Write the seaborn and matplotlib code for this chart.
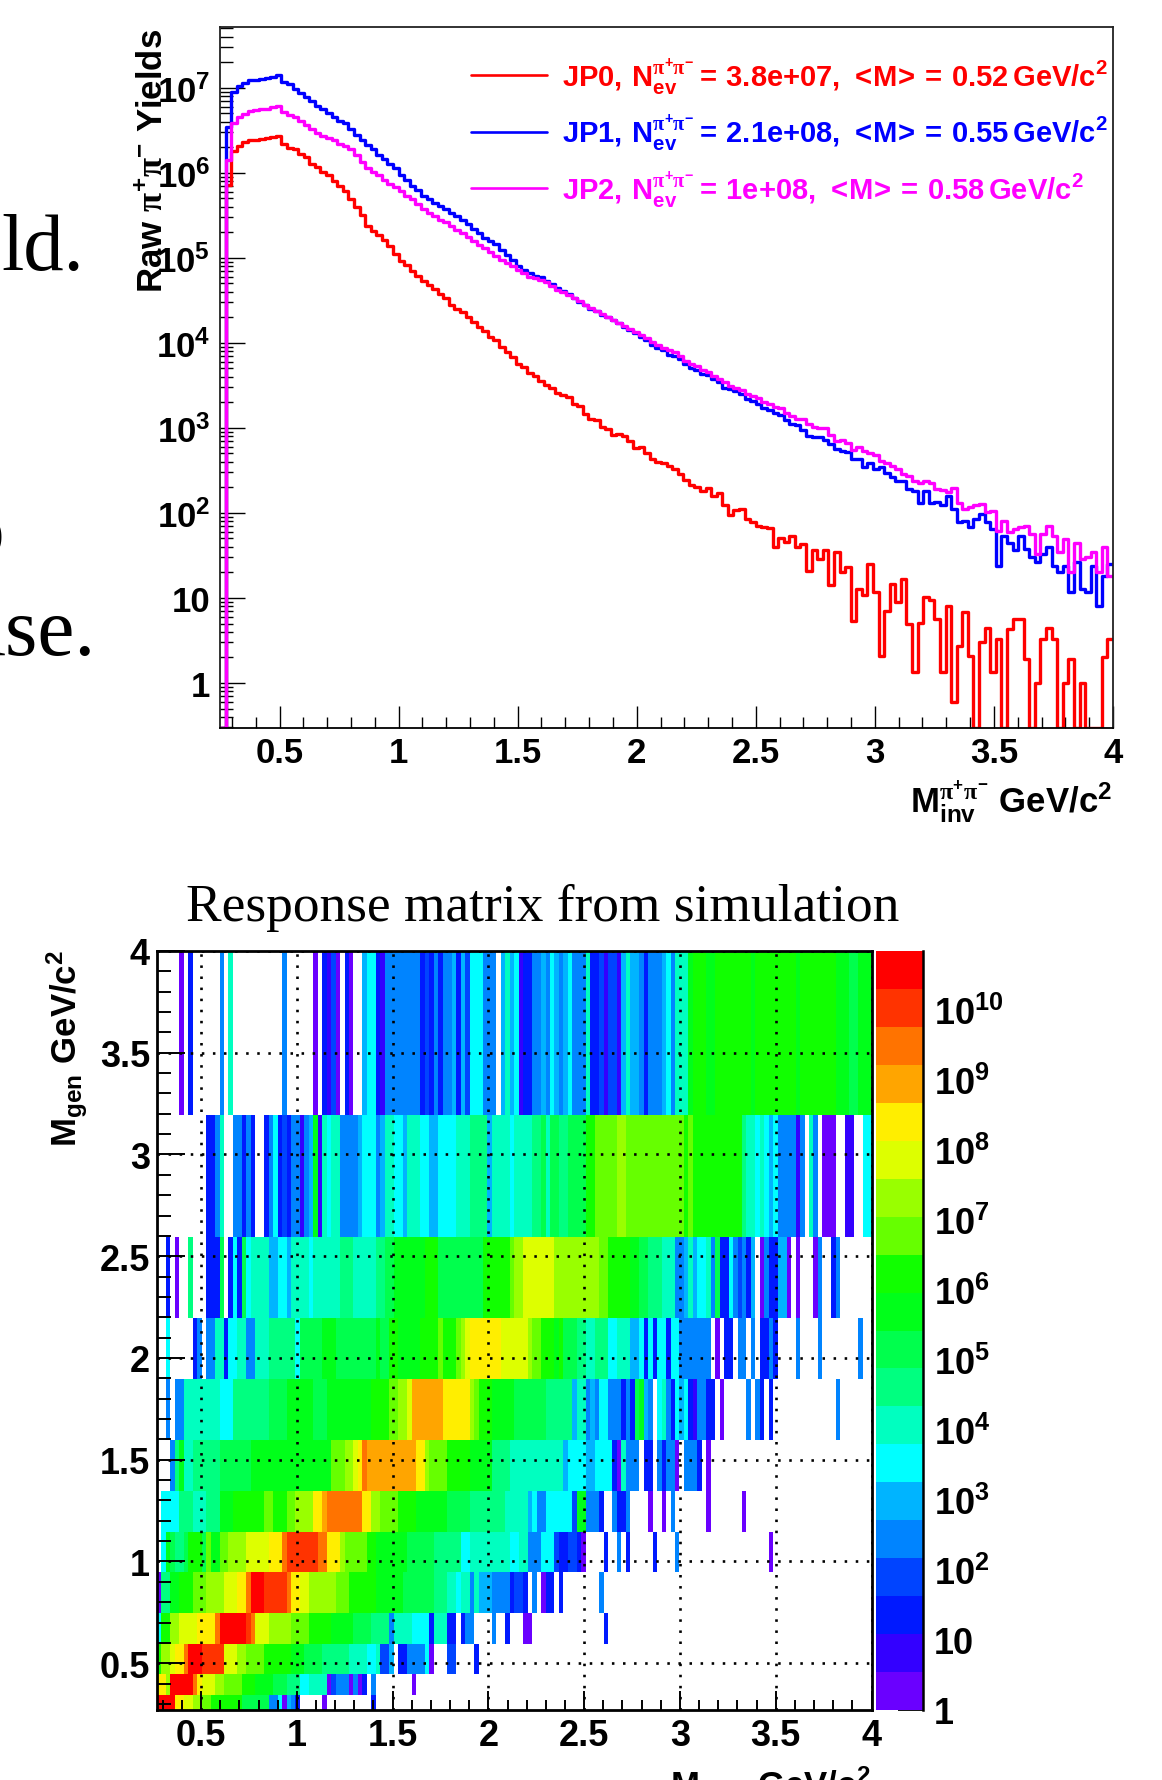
#!/usr/bin/env python3
"""Raw pi+pi- yields per trigger and the simulated response matrix."""

import numpy as np
import pandas as pd
import seaborn as sns
import matplotlib
matplotlib.use('Agg')
import matplotlib.pyplot as plt
from matplotlib.colors import BoundaryNorm, ListedColormap
from matplotlib.ticker import LogLocator, MultipleLocator, NullFormatter

WIDTH, HEIGHT = 1162, 1781

# log10 of the yields, one value per mass bin (None = empty bin)
RED_LOG = [
    None, 5.86, 6.26, 6.32, 6.36, 6.38, 6.39, 6.40, 6.41, 6.42,
    6.43, 6.34, 6.29, 6.28, 6.225, 6.18, 6.105, 6.07, 6.015, 5.97,
    5.90, 5.85, 5.79, 5.69, 5.60, 5.50, 5.37, 5.32, 5.27, 5.21,
    5.14, 5.05, 4.96, 4.91, 4.85, 4.79, 4.73, 4.68, 4.63, 4.58,
    4.53, 4.45, 4.40, 4.36, 4.30, 4.24, 4.19, 4.145, 4.07, 4.03,
    3.95, 3.89, 3.83, 3.75, 3.71, 3.645, 3.615, 3.555, 3.50, 3.47,
    3.41, 3.39, 3.36, 3.28, 3.26, 3.165, 3.11, 3.09, 3.01, 2.99,
    2.92, 2.93, 2.91, 2.84, 2.76, 2.77, 2.71, 2.635, 2.60, 2.59,
    2.55, 2.52, 2.46, 2.39, 2.33, 2.31, 2.255, 2.29, 2.20, 2.235,
    2.09, 1.97, 2.03, 2.05, 1.93, 1.89, 1.85, 1.83, 1.82, 1.60,
    1.71, 1.655, 1.73, 1.60, 1.635, 1.32, 1.56, 1.46, 1.56, 1.15,
    1.54, 1.30, 1.36, 0.73, 1.11, 1.03, 1.40, 1.07, 0.32, 0.85,
    1.16, 0.95, 1.22, 0.69, 0.13, 0.71, 1.01, 0.97, 0.75, 0.13,
    0.91, -0.23, 0.44, 0.83, 0.32, None, 0.48, 0.65, 0.13, 0.52,
    None, 0.64, 0.75, 0.75, 0.28, None, 0.0, 0.52, 0.65, 0.52,
    None, 0.0, 0.28, None, 0.0, None, None, None, 0.30, 0.52,
]
BLUE_LOG = [
    None, 6.54, 6.95, 7.02, 7.06, 7.09, 7.09, 7.10, 7.11, 7.13,
    7.145, 7.07, 7.05, 6.99, 6.94, 6.89, 6.84, 6.78, 6.745, 6.70,
    6.655, 6.61, 6.58, 6.51, 6.44, 6.38, 6.33, 6.275, 6.21, 6.16,
    6.105, 6.055, 5.975, 5.92, 5.85, 5.80, 5.73, 5.69, 5.65, 5.61,
    5.57, 5.53, 5.49, 5.45, 5.40, 5.34, 5.29, 5.23, 5.20, 5.16,
    5.09, 5.03, 4.97, 4.90, 4.86, 4.82, 4.79, 4.77, 4.73, 4.69,
    4.65, 4.61, 4.57, 4.53, 4.48, 4.44, 4.40, 4.37, 4.33, 4.30,
    4.27, 4.23, 4.19, 4.15, 4.11, 4.07, 4.03, 3.98, 3.935, 3.91,
    3.86, 3.85, 3.81, 3.75, 3.70, 3.675, 3.635, 3.62, 3.58, 3.535,
    3.47, 3.46, 3.43, 3.40, 3.34, 3.32, 3.28, 3.23, 3.215, 3.17,
    3.15, 3.09, 3.05, 3.03, 2.97, 2.91, 2.89, 2.89, 2.86, 2.81,
    2.75, 2.73, 2.72, 2.635, 2.63, 2.545, 2.585, 2.515, 2.535, 2.47,
    2.42, 2.37, 2.38, 2.28, 2.26, 2.12, 2.26, 2.12, 2.13, 2.09,
    2.20, 2.05, 1.89, 1.91, 1.83, 1.93, 1.99, 1.89, 1.81, 1.38,
    1.73, 1.65, 1.56, 1.73, 1.58, 1.48, 1.42, 1.52, 1.60, 1.38,
    1.30, 1.38, 1.07, 1.42, 1.11, 1.07, 1.38, 0.91, 1.26, 1.40,
]
MAGENTA_LOG = [
    None, 6.145, 6.58, 6.655, 6.695, 6.725, 6.74, 6.745, 6.75, 6.77,
    6.785, 6.72, 6.68, 6.655, 6.605, 6.56, 6.52, 6.47, 6.43, 6.41,
    6.38, 6.34, 6.31, 6.275, 6.21, 6.125, 6.055, 6.01, 5.97, 5.91,
    5.87, 5.83, 5.79, 5.73, 5.695, 5.63, 5.58, 5.53, 5.49, 5.45,
    5.42, 5.38, 5.33, 5.29, 5.25, 5.20, 5.15, 5.11, 5.07, 5.02,
    4.98, 4.94, 4.90, 4.86, 4.82, 4.78, 4.76, 4.74, 4.71, 4.67,
    4.62, 4.60, 4.565, 4.525, 4.49, 4.45, 4.41, 4.38, 4.34, 4.30,
    4.27, 4.23, 4.20, 4.16, 4.125, 4.09, 4.055, 4.015, 3.975, 3.935,
    3.91, 3.89, 3.85, 3.79, 3.75, 3.725, 3.675, 3.655, 3.615, 3.575,
    3.535, 3.49, 3.47, 3.445, 3.40, 3.38, 3.35, 3.31, 3.275, 3.24,
    3.23, 3.17, 3.14, 3.11, 3.11, 3.05, 3.015, 3.0, 3.0, 2.92,
    2.85, 2.86, 2.82, 2.745, 2.78, 2.73, 2.71, 2.675, 2.615, 2.59,
    2.55, 2.52, 2.46, 2.43, 2.38, 2.35, 2.37, 2.35, 2.28, 2.27,
    2.25, 2.29, 2.12, 2.04, 2.07, 2.09, 2.11, 2.01, 2.02, 1.79,
    1.91, 1.77, 1.81, 1.83, 1.84, 1.75, 1.52, 1.75, 1.84, 1.73,
    1.54, 1.69, 1.30, 1.64, 1.46, 1.48, 1.54, 1.30, 1.60, 1.26,
]
LEGEND_NAMES = ['JP0', 'JP1', 'JP2']
LEGEND_NEV = ['3.8e{+}07', '2.1e{+}08', '1e{+}08']
LEGEND_MEAN = ['0.52', '0.55', '0.58']

# response matrix: colour band of each bin, "band*repeat", band 0 = empty.
# Rows go from the lowest generated mass up.
ROW_01 = ("20*4 16*2 15*2 14*2 13*2 12*3 12*4 10*6 5*2 7 1 6 5 3 0*5 1 0*10 3 0*200")
ROW_02 = ("16*2 14 20*5 18 16 15*3 14*2 13*4 12*3 11*4 10*3 9*3 7*2 8*4 1 4 5*3 1 5 1 3 0 5 "
          "0*8 1 0*200")
ROW_03 = ("12 14*2 15 16*2 18 20*3 19*5 15*3 14*2 13*4 12*6 11*3 10*4 9*6 8*4 7*2 8 4*2 6 0 "
          "3*2 5*4 7 1 0*3 4*2 0*4 3 0*200")
ROW_04 = ("7 12*2 14*2 15*2 15*2 16*2 16*2 18 20*6 19 18 15*3 14*5 13*4 12*5 11*5 10*4 9*4 5 "
          "8*4 7*4 3 8*3 3*2 0 3 5*2 0*4 5 0*2 3 0*3 1*2 0*16 3 0*200")
ROW_05 = ("1 9*2 11*2 12*3 13*3 14*4 15*3 16*2 18 20*3 19*5 18 16*2 15*2 14*3 14*3 13*3 12*6 "
          "11*6 10*7 9*3 8*2 7 8*2 5 8 6*3 5*4 3 4*2 3 0 5 0 1 3*2 0 3 0*8 5 0*200")
ROW_06 = ("0 7 11 10 9*2 10 12*3 10 13 11*2 13*2 14*4 15*5 16*3 18 19*7 18*2 16*3 14 13*5 12*2 "
          "11*7 10*6 9*6 7*2 8*9 7*2 8*2 5*3 7*3 4 3 3 4 4 3 1 0*4 3 0*2 5 0 3 0*5 3 0*4 5 0*20 "
          "1 0*200")
ROW_07 = ("0 7*4 9*3 8*3 9*3 11*3 12*3 12*4 13*2 12*3 13*2 14*4 16*2 17 18*8 16*2 14*2 13*4 "
          "12*4 11*3 11*4 10*5 9*3 9*5 8*5 6 7 5*2 7*6 4 11*2 5*3 3 0*2 5 3*2 5 0*4 1 0*2 "
          "1 0 5 0*7 1 0*7 1 0*200")
ROW_08 = ("0*3 5 9 11 8*2 9*6 10*7 11*18 13*3 14*2 15 16 18 17 17*10 16*2 14 13*4 12*5 "
          "11*5 9*4 8*9 8*3 6 7*3 7 6*2 7*4 3 1 8 5*3 0 3*2 0 5 3 5*2 1 0 5*3 3 "
          "0 1 0*200")
ROW_09 = ("0*2 5 0 5*2 8*8 7*3 9*8 10*4 11*6 10*3 11*3 11*7 12*4 13*2 14*2 15 17*7 16*6 14 13 "
          "12*3 11*5 10*7 9*6 6 8*2 5 6 5 7*2 5*3 3 5 3 10 11 6 5 0 7 8 5 3 7 6 7 3 2 5*2 3*2 "
          "0 1 0*5 5 0 5 3 0 3 0*14 5 0*200")
ROW_10 = ("0*2 7 0*5 3 5 0 5*2 8*2 3 7*2 8*2 5*2 8*3 9*6 7 10*5 11*3 10*9 11 10*2 12*2 11*5 "
          "12*4 13 12*3 13 14 15 16*7 15*6 14 13*2 12*3 11 12 10*3 9*2 8*2 9*3 7*2 8*3 6*2 7 3 "
          "7 3 7*2 3 7*2 5*7 0 1 0 3*2 0 5*2 0 5 0 3*2 5 3 0*4 5 0*4 5 0*8 5 0*200")
ROW_11 = ("0*2 3 0 1 0*2 9 0*3 3*3 10 0 3 7 3 10 7 8 8*3 6*2 7*2 6 8*4 7 8*6 9*3 8*5 9*2 10*2 "
          "11*7 12*3 10*5 10*5 12*6 13 14*2 15*7 14*10 13*2 12*5 11*2 10*2 9*3 8*3 5*2 6 8 6 "
          "7*2 8 5 10 3*2 7 5 4 5 3 6 0 1 5 3*2 6*2 1 0 1 0*3 1 5 0*2 3 5 0*200")
ROW_12 = ("0*11 3*2 5 8 0*2 5*2 3 5 3 0*2 3 5 7 3 4 3 5*2 2 5 6 11 2 8 7 8*2 5*4 6 7 7*2 5 6 "
          "8*2 7*2 6 8*3 7*2 6*2 7*4 8*3 9*4 6 8*4 7 8*4 9*2 10 8 10*2 9*2 10*4 12*2 13*5 14*2 "
          "13*3 13*9 13 12 13 12 12*10 9 8*2 7 8 7 6 7 5*4 2 5 0 8 5 0 1*3 0*2 2*2 0*2 7*4")
ROW_13 = ("0*5 1 0 3 0*6 5 0 8 0*11 5 0*6 1 0 3 2 4 1 0 3 1 0*2 6 7*2 3 2 5*8 3 4 3 5 3 5*2 6 3 "
          "6 4 7*3 5*3 0 6 8 6 7 2 3*2 5*2 6 5 7 6 5 6 7 5*3 8 3*2 4 2 4*2 2 6 8 6*2 5 3 5*3 6 "
          "7 5 8*3 11 12*3 11*2 12*8 11 12*9 11 12*8 11*3 10*2 11*30")
ROWS = [ROW_01, ROW_02, ROW_03, ROW_04, ROW_05, ROW_06, ROW_07,
        ROW_08, ROW_09, ROW_10, ROW_11, ROW_12, ROW_13]
GEN_EDGES = [0.27, 0.342, 0.445, 0.593, 0.745, 0.947, 1.144,
             1.345, 1.596, 1.896, 2.196, 2.594, 3.194, 4.0]

BAND_COLORS = ['#6a00ff', '#3300ff', '#0019ff', '#0044ff', '#0084ff',
               '#00b4ff', '#00ffff', '#00ffc0', '#00ff80', '#00ff4d',
               '#00ff1a', '#11ff00', '#66ff00', '#99ff00', '#ddff00',
               '#ffee00', '#ffa500', '#ff7300', '#ff3300', '#ff0000']
BAND_DECADES = 0.542  # width of a colour band in decades
N_BINS = 160

# text from the slide behind the two plots
SLIDE_TOP = 'ld.'
SLIDE_BOTTOM = 'ase.'
SLIDE_TITLE = 'Response matrix from simulation'


def axes_px(fig, left, top, right, bottom):
    """Add axes given by their pixel box, measured from the top left."""
    return fig.add_axes([left / WIDTH, 1 - bottom / HEIGHT,
                         (right - left) / WIDTH, (bottom - top) / HEIGHT])


def fig_text(fig, x, y, text, **kwargs):
    """Figure text at a pixel position, measured from the top left."""
    return fig.text(x / WIDTH, 1 - y / HEIGHT, text, **kwargs)


def expand_row(row):
    """Turn 'band*repeat' text into one band per bin."""
    bands = []
    for part in row.split():
        band, _, repeat = part.partition('*')
        bands += [int(band)] * int(repeat or 1)
    return (bands + [0] * N_BINS)[:N_BINS]


def log_label(value, _pos=None):
    """Label a decade the way ROOT does."""
    exponent = int(round(np.log10(value)))
    if exponent == 0:
        return '1'
    if exponent == 1:
        return '10'
    return f'$10^{{{exponent}}}$'


def style_log_axis(axis):
    axis.set_major_locator(LogLocator(base=10, numticks=20))
    axis.set_minor_locator(LogLocator(base=10, subs=np.arange(2, 10) * 0.1, numticks=20))
    axis.set_minor_formatter(NullFormatter())
    axis.set_major_formatter(log_label)


def draw_yields(fig):
    ax = axes_px(fig, 220, 28.4, 1113, 729)
    edges = np.linspace(0.25, 4.0, N_BINS + 1)
    ymin, ymax = 10 ** -0.53, 10 ** 7.71
    series = [('red', RED_LOG, '#ff0000'), ('blue', BLUE_LOG, '#0000ff'),
              ('magenta', MAGENTA_LOG, '#ff00ff')]
    for i, (name, values, color) in enumerate(series):
        logs = np.array(values, dtype=float)
        counts = np.nan_to_num(10 ** logs, nan=0.0)
        counts = np.clip(counts, ymin, None)
        df = pd.DataFrame({'mass': edges, 'yield': np.append(counts, counts[-1])})
        label = (rf'{LEGEND_NAMES[i]},\,N_{{ev}}^{{\mathrm{{\pi}}^{{+}}\mathrm{{\pi}}^{{-}}}}'
                 rf'{{=}}\,{LEGEND_NEV[i]},\,{{<}}\!M\!{{>}}{{=}}\,{LEGEND_MEAN[i]}\,GeV/c^{{2}}')
        sns.lineplot(data=df, x='mass', y='yield', ax=ax, color=color, linewidth=2.4,
                     estimator=None, sort=False, drawstyle='steps-post',
                     label=f'${label}$', clip_on=True)
    ax.set_yscale('log')
    ax.set_xlim(0.25, 4.0)
    ax.set_ylim(ymin, ymax)
    ax.set_xlabel('')
    ax.set_ylabel('')
    style_log_axis(ax.yaxis)
    ax.xaxis.set_major_locator(MultipleLocator(0.5))
    ax.xaxis.set_minor_locator(MultipleLocator(0.1))
    ax.xaxis.set_major_formatter(lambda v, _p: f'{v:g}')
    ax.tick_params(axis='x', which='major', direction='in', length=16, width=1.0,
                   pad=6, labelsize=25)
    ax.tick_params(axis='x', which='minor', direction='in', length=8, width=1.0)
    ax.tick_params(axis='y', which='major', direction='in', length=18, width=1.0,
                   pad=7, labelsize=25)
    ax.tick_params(axis='y', which='minor', direction='in', length=9, width=1.0)
    for spine in ax.spines.values():
        spine.set_visible(True)
        spine.set_color('#222222')
        spine.set_linewidth(1.3)
    ax.spines['bottom'].set_color('black')

    handles, labels = ax.get_legend_handles_labels()
    legend = ax.legend(handles, labels, loc='upper left', frameon=False, fontsize=21,
                       bbox_to_anchor=(471 / WIDTH, 1 - 56 / HEIGHT),
                       bbox_transform=fig.transFigure, borderaxespad=0, borderpad=0,
                       handlelength=2.62, handletextpad=0.5, labelspacing=0.55,
                       labelcolor='linecolor')
    for line in legend.get_lines():
        line.set_linewidth(1.9)
    return ax


def draw_response(fig):
    ax = axes_px(fig, 157, 952, 871.5, 1711)
    rec_edges = np.linspace(0.27, 4.0, N_BINS + 1)
    bands = np.array([expand_row(row) for row in ROWS], dtype=float)
    counts = np.ma.masked_equal(10 ** ((bands - 0.5) * BAND_DECADES) * (bands > 0), 0)
    bounds = 10 ** (np.arange(21) * BAND_DECADES)
    cmap = ListedColormap(BAND_COLORS)
    norm = BoundaryNorm(bounds, cmap.N)
    ax.pcolormesh(rec_edges, GEN_EDGES, counts, cmap=cmap, norm=norm, linewidth=0)
    ax.set_xlim(0.27, 4.0)
    ax.set_ylim(0.27, 4.0)
    ax.xaxis.set_major_locator(MultipleLocator(0.5))
    ax.xaxis.set_minor_locator(MultipleLocator(0.1))
    ax.yaxis.set_major_locator(MultipleLocator(0.5))
    ax.yaxis.set_minor_locator(MultipleLocator(0.1))
    ax.xaxis.set_major_formatter(lambda v, _p: f'{v:g}')
    ax.yaxis.set_major_formatter(lambda v, _p: f'{v:g}')
    ax.set_axisbelow(False)
    ax.grid(True, which='major', color='black', linewidth=1.9, linestyle=(0, (0.95, 3.25)))
    ax.tick_params(axis='x', which='major', direction='in', length=14, width=1.4,
                   pad=6, labelsize=26)
    ax.tick_params(axis='x', which='minor', direction='in', length=7, width=1.4)
    ax.tick_params(axis='y', which='major', direction='in', length=20, width=1.4,
                   pad=5, labelsize=26)
    ax.tick_params(axis='y', which='minor', direction='in', length=10, width=1.4)
    for spine in ax.spines.values():
        spine.set_visible(True)
        spine.set_color('black')
        spine.set_linewidth(2.0)

    # colour scale beside the matrix
    cax = axes_px(fig, 876, 952, 923, 1711)
    levels = np.arange(1, 21, dtype=float).reshape(-1, 1)
    cax.pcolormesh([0, 1], bounds, 10 ** ((levels - 0.5) * BAND_DECADES),
                   cmap=cmap, norm=norm, linewidth=0)
    cax.set_yscale('log')
    cax.set_ylim(bounds[0], bounds[-1])
    cax.set_xticks([])
    cax.yaxis.tick_right()
    style_log_axis(cax.yaxis)
    cax.tick_params(axis='y', which='major', direction='in', length=18, width=1.3,
                    pad=8, labelsize=26)
    cax.tick_params(axis='y', which='minor', direction='in', length=9, width=1.3)
    for side, spine in cax.spines.items():
        spine.set_visible(side == 'right')
        spine.set_color('black')
        spine.set_linewidth(1.8)
    return ax


def main():
    sns.set_theme(style='ticks')
    plt.rcParams['font.family'] = ['Liberation Sans']
    plt.rcParams['font.weight'] = 'bold'
    plt.rcParams['axes.facecolor'] = 'white'
    plt.rcParams['mathtext.fontset'] = 'custom'
    plt.rcParams['mathtext.bf'] = 'Liberation Sans:bold'
    plt.rcParams['mathtext.rm'] = 'Liberation Serif'
    plt.rcParams['mathtext.it'] = 'Liberation Sans:bold'
    plt.rcParams['mathtext.default'] = 'bf'
    plt.rcParams['xtick.color'] = 'black'
    plt.rcParams['ytick.color'] = 'black'

    fig = plt.figure(figsize=(WIDTH / 100, HEIGHT / 100), dpi=100, facecolor='white')
    draw_yields(fig)
    draw_response(fig)

    pi_pair = r'\mathrm{\pi}^{+}\mathrm{\pi}^{-}'
    fig_text(fig, 152, 293, rf'$Raw\ {pi_pair}\ Yields$', rotation=90, fontsize=25,
             ha='center', va='bottom', color='black')
    fig_text(fig, 1112, 814, rf'$M_{{inv}}^{{{pi_pair}}}\ GeV/c^{{2}}$', fontsize=25,
             ha='right', va='baseline', color='black')
    fig_text(fig, 67, 1147, r'$M_{gen}\ GeV/c^{2}$', rotation=90, fontsize=25,
             ha='center', va='bottom', color='black')
    fig_text(fig, 871, 1797, r'$M_{rec}\ \ GeV/c^{2}$', fontsize=25,
             ha='right', va='baseline', color='black')

    serif = dict(family='Liberation Serif', weight='normal', color='black')
    fig_text(fig, 543, 921, SLIDE_TITLE, fontsize=38.4, ha='center', va='baseline', **serif)
    fig_text(fig, 84, 270, SLIDE_TOP, fontsize=58, ha='right', va='baseline', **serif)
    fig_text(fig, 95, 655, SLIDE_BOTTOM, fontsize=60, ha='right', va='baseline', **serif)
    fig_text(fig, 4, 556, 'o', fontsize=60, ha='right', va='baseline', **serif)

    fig.savefig('out.png', dpi=100, facecolor='white')
    plt.close(fig)


if __name__ == '__main__':
    main()
